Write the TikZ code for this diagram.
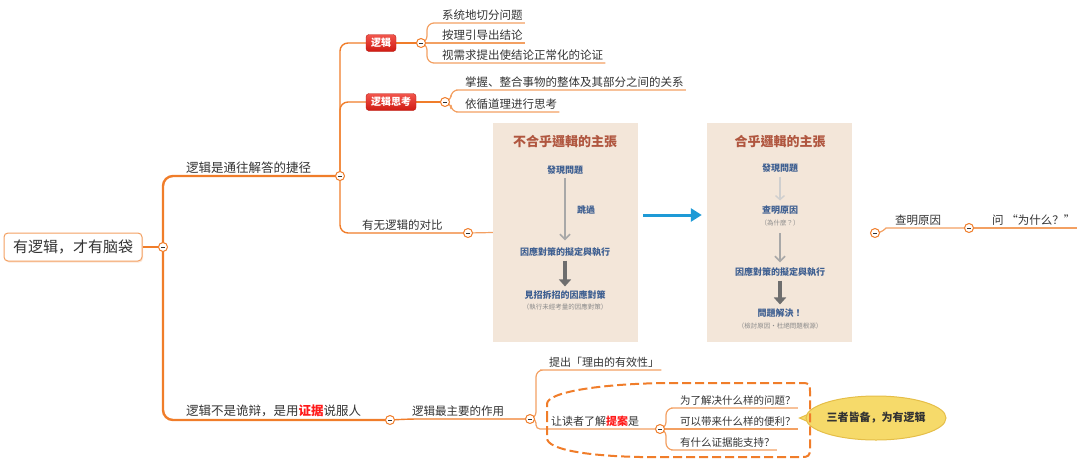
\documentclass[tikz,border=0pt]{standalone}
\usepackage{fontspec}
\setmainfont{Noto Sans CJK SC}
\newfontfamily\tcfont{Noto Sans CJK TC}
\usetikzlibrary{shapes.geometric,arrows.meta,shadows,calc}
\definecolor{om}{HTML}{F07D2A}
\definecolor{ol}{HTML}{F3A062}
\definecolor{tc}{HTML}{333333}
\definecolor{bred}{HTML}{E3261C}
\definecolor{bredtop}{HTML}{F2554C}
\definecolor{bredbot}{HTML}{D01A12}
\definecolor{beige}{HTML}{F3E6D9}
\definecolor{ttl}{HTML}{B0563F}
\definecolor{bt}{HTML}{3E5F91}
\definecolor{gt}{HTML}{8A8A8A}
\definecolor{ga}{HTML}{A8A8A8}
\definecolor{gl}{HTML}{CFCFCF}
\definecolor{gd}{HTML}{6E6E6E}
\definecolor{barr}{HTML}{1E9AD6}
\definecolor{yel}{HTML}{F6DA6A}
\definecolor{yelb}{HTML}{E5BE48}
\definecolor{kred}{HTML}{FF1A1A}
\pgfdeclarelayer{bg}
\pgfsetlayers{bg,main}
\tikzset{
  txt/.style={anchor=south west, inner xsep=2pt, inner ysep=2.5pt, text=tc, font=\fontsize{11.5}{13}\selectfont},
  big/.style={txt, font=\fontsize{12.5}{14}\selectfont},
  root/.style={draw=ol, line width=1pt, rounded corners=4, fill=white, text=tc,
    minimum width=138, minimum height=28, font=\fontsize{15}{17}\selectfont,
    drop shadow={opacity=0.25, fill=ol, shadow xshift=1pt, shadow yshift=-1.5pt}},
  cbtn/.style={circle, draw=om, fill=white, line width=1pt, minimum size=9pt, inner sep=0pt,
    path picture={\draw[line width=1pt, tc] ([xshift=-2pt]path picture bounding box.center) -- ([xshift=2pt]path picture bounding box.center);}},
  trunk/.style={draw=om, line width=2.4pt, rounded corners=10},
  br/.style={draw=om, line width=1.4pt, rounded corners=8},
  thinl/.style={draw=ol, line width=1.2pt, rounded corners=7},
  badge/.style={top color=bredtop, bottom color=bredbot, draw=bred!80!black, rounded corners=3,
    text=white, font=\bfseries\fontsize{10}{12}\selectfont, minimum height=17, inner xsep=5pt},
  panel/.style={fill=beige, draw=none, minimum width=145, minimum height=219},
  ptitle/.style={text=ttl, font=\tcfont\bfseries\fontsize{13}{15}\selectfont},
  pblue/.style={text=bt, font=\tcfont\bfseries\fontsize{9}{11}\selectfont, inner sep=1pt},
  pgray/.style={text=gt, font=\tcfont\fontsize{6.5}{8}\selectfont, inner sep=1pt},
  garrow/.style={draw=ga, line width=1.6pt, -{Straight Barb[length=5pt,width=10pt]}},
  larrow/.style={draw=gl, line width=1.4pt, -{Straight Barb[length=4pt,width=9pt]}},
  darrow/.style={draw=gd, line width=3.2pt, -{Triangle[length=7pt,width=12pt]}},
  barrow/.style={draw=barr, line width=3pt, -{Triangle[length=11pt,width=13pt]}},
  dashbox/.style={draw=om, line width=2pt, dash pattern=on 9pt off 4pt},
  callout/.style={ellipse, fill=yel, draw=yelb, line width=1pt, minimum width=118, minimum height=44,
    text=tc, font=\bfseries\fontsize{11}{13}\selectfont, inner sep=0pt}
}
\begin{document}
\begin{tikzpicture}[x=1pt,y=-1pt]
\useasboundingbox (0,0) rectangle (1080,464);
% root and trunk
\node[root] (root) at (73,247) {有逻辑，才有脑袋};
\node[cbtn] (c0) at (163,247) {};
\node[big] (n1) at (184,176) {逻辑是通往解答的捷径};
\node[cbtn] (c1) at (340,176) {};
\node[big] (n2) at (184,420) {逻辑不是诡辩，是用\textcolor{kred}{\bfseries 证据}说服人};
\node[cbtn] (c2) at (390,420) {};
% upper branch
\node[badge] (b1) at (381,43) {逻辑};
\node[cbtn] (c4) at (421,43) {};
\node[txt] (k1) at (440,23) {系统地切分问题};
\node[txt] (k2) at (440,43) {按理引导出结论};
\node[txt] (k3) at (440,63) {视需求提出使结论正常化的论证};
\node[badge] (b2) at (391,102) {逻辑思考};
\node[cbtn] (c5) at (445,102) {};
\node[txt] (m1) at (463,90) {掌握、整合事物的整体及其部分之间的关系};
\node[txt] (m2) at (463,112) {依循道理进行思考};
\node[txt] (n3) at (360,233) {有无逻辑的对比};
\node[cbtn] (c3) at (468,233) {};
% panels
\node[panel] (p1) at (565.5,232.5) {};
\node[panel] (p2) at (779.5,232.5) {};
\node[ptitle] (t1) at (565,142) {不合乎邏輯的主張};
\node[pblue] (a1) at (565,170) {發現問題};
\node[pblue] (s1) at (586,210) {跳過};
\node[pblue] (a2) at (565,252) {因應對策的擬定與執行};
\node[pblue] (a3) at (565,295) {見招拆招的因應對策};
\node[pgray] (a4) at (565,307) {（執行未經考量的因應對策）};
\node[ptitle] (t2) at (780,142) {合乎邏輯的主張};
\node[pblue] (r1) at (780,168) {發現問題};
\node[pblue] (r2) at (780,210) {查明原因};
\node[pgray] (r3) at (780,223) {（為什麼？）};
\node[pblue] (r4) at (780,272) {因應對策的擬定與執行};
\node[pblue] (r5) at (780,313) {問題解決！};
\node[pgray] (r6) at (780,326) {（檢討原因‧杜絕問題根源）};
\draw[garrow] ([yshift=-3pt]a1.south) -- ([yshift=6pt]a2.north);
\draw[darrow] ([yshift=-3pt]a2.south) -- ([yshift=3pt]a3.north);
\draw[larrow] ([yshift=-4pt]r1.south) -- ([yshift=4pt]r2.north);
\draw[garrow] ([yshift=-6pt]r3.south) -- ([yshift=4pt]r4.north);
\draw[darrow] ([yshift=-3pt]r4.south) -- ([yshift=3pt]r5.north);
\draw[barrow] ($(p1.east)+(5,-17.5)$) -- ($(p2.west)+(-5,-17.5)$);
% right branch
\node[cbtn] (c6) at (875,233) {};
\node[txt] (n4) at (893,228) {查明原因};
\node[cbtn] (c7) at (969,228) {};
\node[txt] (n5) at (990,228) {问 “为什么？”};
% lower branch
\node[txt] (n6) at (410,419) {逻辑最主要的作用};
\node[cbtn] (c8) at (530,419) {};
\node[txt, font=\fontsize{11}{13}\selectfont] (o1) at (547,370) {提出「理由的有效性」};
\node[txt, font=\fontsize{11}{13}\selectfont] (o2) at (549,429) {让读者了解\textcolor{kred}{\bfseries 提案}是};
\node[cbtn] (c9) at (660,429) {};
\node[txt, font=\fontsize{10.5}{12}\selectfont] (q1) at (678,408) {为了解决什么样的问题？};
\node[txt, font=\fontsize{10.5}{12}\selectfont] (q2) at (678,429) {可以带来什么样的便利？};
\node[txt, font=\fontsize{10.5}{12}\selectfont] (q3) at (678,450) {有什么证据能支持？};
\node[callout] (e1) at (876,418) {三者皆备，为有逻辑};
\begin{pgfonlayer}{bg}
  \draw[trunk] (root.east) -- (c0.center);
  \draw[trunk] (c0.center) |- (n1.south west) -- (c1.center);
  \draw[trunk] (c0.center) |- (n2.south west) -- (c2.center);
  \draw[br] (c1.center) |- (b1.west);
  \draw[br] (c1.center) |- (b2.west);
  \draw[br] (c1.center) |- (n3.south west) -- (c3.center);
  \draw[br] (b1.east) -- (c4.center);
  \draw[br] (b2.east) -- (c5.center);
  \draw[thinl] (c4.center) -- ++(6,0) |- (k1.south west) -- (k1.south east);
  \draw[thinl] (c4.center) -- (k2.south east);
  \draw[thinl] (c4.center) -- ++(6,0) |- (k3.south west) -- (k3.south east);
  \draw[thinl] (c5.center) -- ++(6,0) |- (m1.south west) -- (m1.south east);
  \draw[thinl] (c5.center) -- ++(6,0) |- (m2.south west) -- (m2.south east);
  \draw[thinl] (c3.center) -- (p1.west);
  \draw[thinl] (c6.center) to[out=0,in=180] (n4.south west) -- (c7.center);
  \draw[thinl] (c7.center) -- (n5.south west) -- (n5.south east);
  \draw[br] (c2.center) -- (n6.south west) -- (c8.center);
  \draw[thinl] (c8.center) -- ++(6,0) |- (o1.south west) -- (o1.south east);
  \draw[thinl, rounded corners=4] (c8.center) -- ++(6,0) |- (o2.south west) -- (c9.center);
  \draw[thinl] (c9.center) -- ++(6,0) |- (q1.south west) -- (q1.south east);
  \draw[thinl] (c9.center) -- (q2.south east);
  \draw[thinl] (c9.center) -- ++(6,0) |- (q3.south west) -- (q3.south east);
  % callout tail
  \fill[yel, draw=yelb, line width=1pt] ($(e1.west)+(8,-6)$) -- ($(e1.west)+(-6,0)$) -- ($(e1.west)+(8,6)$) -- cycle;
\end{pgfonlayer}
% dashed boundary
\draw[dashbox] (547,420) -- (547,404) .. controls (547,392) and (600,384) .. (665,383)
  -- (802,383) .. controls (810,383) and (810,385) .. (810,391) -- (810,449)
  .. controls (810,456) and (808,457) .. (802,457) -- (640,457)
  .. controls (590,456) and (547,450) .. (547,438) -- cycle;
\end{tikzpicture}
\end{document}
